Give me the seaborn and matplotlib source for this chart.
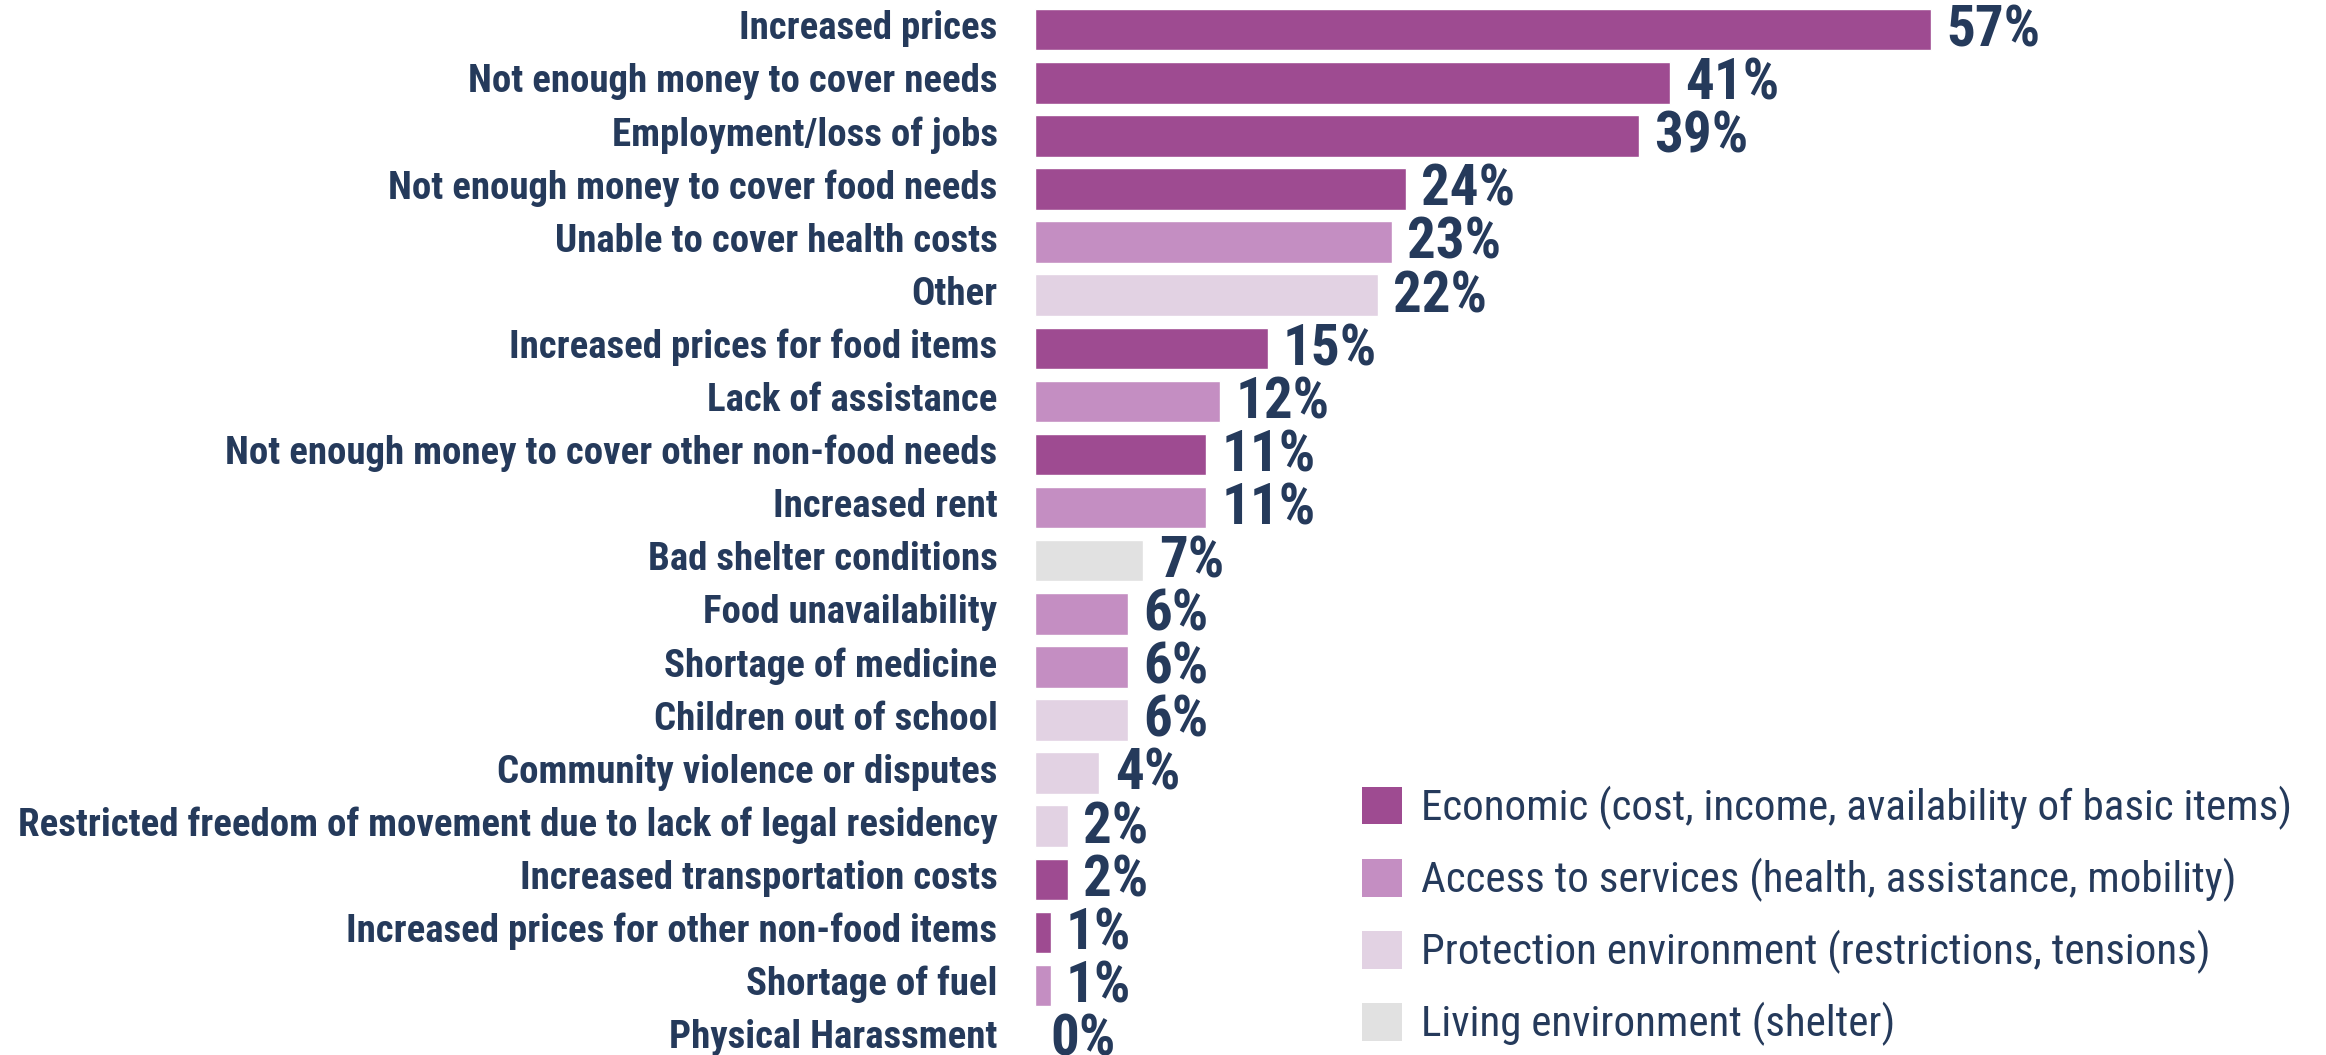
import matplotlib
matplotlib.use("Agg")
import matplotlib.pyplot as plt
from matplotlib import font_manager
from matplotlib.patches import Patch
from matplotlib.transforms import ScaledTranslation
import seaborn as sns
import pandas as pd

categories = [
    "Increased prices",
    "Not enough money to cover needs",
    "Employment/loss of jobs",
    "Not enough money to cover food needs",
    "Unable to cover health costs",
    "Other",
    "Increased prices for food items",
    "Lack of assistance",
    "Not enough money to cover other non-food needs",
    "Increased rent",
    "Bad shelter conditions",
    "Food unavailability",
    "Shortage of medicine",
    "Children out of school",
    "Community violence or disputes",
    "Restricted freedom of movement due to lack of legal residency",
    "Increased transportation costs",
    "Increased prices for other non-food items",
    "Shortage of fuel",
    "Physical Harassment",
]
values = [57.0, 40.4, 38.4, 23.6, 22.7, 21.8, 14.8, 11.8, 10.9, 10.9,
          6.9, 5.9, 5.9, 5.9, 4.1, 2.1, 2.1, 1.0, 1.0, 0.0]
value_labels = ["57%", "41%", "39%", "24%", "23%", "22%", "15%", "12%", "11%", "11%",
                "7%", "6%", "6%", "6%", "4%", "2%", "2%", "1%", "1%", "0%"]
groups = ["Economic", "Economic", "Economic", "Economic", "Access", "Protection",
          "Economic", "Access", "Economic", "Access", "Living", "Access", "Access",
          "Protection", "Protection", "Protection", "Economic", "Economic", "Access",
          "Protection"]
group_names = ["Economic", "Access", "Protection", "Living"]
legend_labels = [
    "Economic (cost, income, availability of basic items)",
    "Access to services (health, assistance, mobility)",
    "Protection environment (restrictions, tensions)",
    "Living environment (shelter)",
]
group_colors = ["#9e4b91", "#c48ec2", "#e2d2e3", "#e1e1e1"]

avail = {f.name for f in font_manager.fontManager.ttflist}
fam = "DejaVu Sans"
for cand in ["Liberation Sans Narrow", "Roboto Condensed", "Open Sans Condensed", "Lato", "Roboto"]:
    if cand in avail:
        fam = cand
        break

sns.set_theme(style="white")
plt.rcParams["font.family"] = [fam, "DejaVu Sans"]

TEXT = "#253a5b"
W, H = 2326, 1055
fig = plt.figure(figsize=(W / 100, H / 100), dpi=100)
ax_left = 1035 / W
ax = fig.add_axes([ax_left, 0, 1 - ax_left, 1])

df = pd.DataFrame({"category": categories, "value": values, "group": groups})
sns.barplot(data=df, y="category", x="value", hue="group", hue_order=group_names,
            palette=group_colors, dodge=False, width=0.78, ax=ax, legend=False,
            order=categories, saturation=1)

row_px = 53.1
top_px = 29.7
ax.set_ylim((H - top_px) / row_px, -top_px / row_px)
ax.set_xlim(0, 57.0 * (W - 1035) / (1931 - 1035))
ax.set_xlabel("")
ax.set_ylabel("")
ax.set_xticks([])
ax.tick_params(axis="y", length=0, pad=27)
shift = ScaledTranslation(0, 5 / 100, fig.dpi_scale_trans)
for lab in ax.get_yticklabels():
    lab.set_fontweight("bold")
    lab.set_fontsize(28)
    lab.set_color(TEXT)
    lab.set_transform(lab.get_transform() + shift)
for s in ax.spines.values():
    s.set_visible(False)

for i, (v, t) in enumerate(zip(values, value_labels)):
    ax.annotate(t, xy=(v, i), xytext=(11, -1), textcoords="offset points",
                va="center", ha="left", fontsize=41, fontweight="bold", color=TEXT)

handles = [Patch(facecolor=c, edgecolor="none") for c in group_colors]
fs = 31
fs_px = fs / 0.72
fig.legend(handles, legend_labels, loc="upper left",
           bbox_to_anchor=(1362 / W, 1 - 786 / H), frameon=False, fontsize=fs,
           labelcolor=TEXT, handlelength=40 / fs_px, handleheight=42 / fs_px,
           handletextpad=0.45, labelspacing=0.65, borderpad=0, borderaxespad=0)

fig.savefig("out.png", dpi=100)
